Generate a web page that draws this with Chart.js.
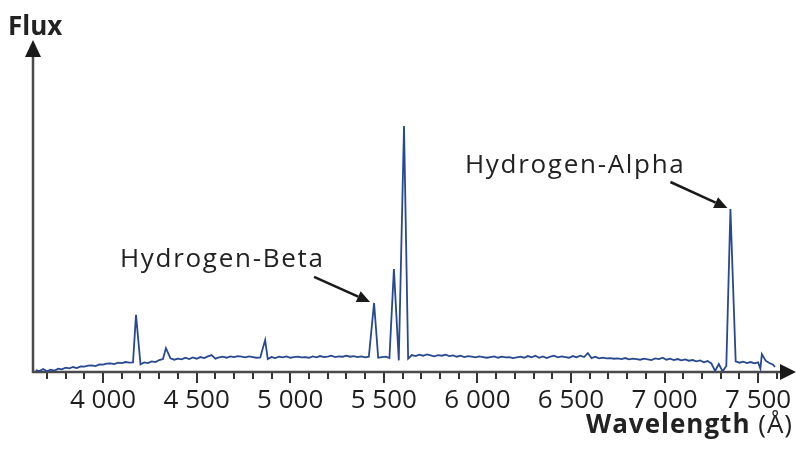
<!DOCTYPE html>
<html>
<head>
<meta charset="utf-8">
<script src="https://cdn.jsdelivr.net/npm/chart.js@4.4.0/dist/chart.umd.min.js"></script>
<style>
  html, body { margin: 0; padding: 0; background: #fff; }
</style>
</head>
<body>
<canvas id="spectrum" width="796" height="452"></canvas>
<script>
// spectrum samples (wavelength in Angstrom, flux in arbitrary units)
const wavelength = [
  3640, 3660, 3680, 3700, 3720, 3740, 3760, 3780, 3800, 3820,
  3840, 3860, 3880, 3900, 3920, 3940, 3960, 3980, 4000, 4020,
  4040, 4060, 4080, 4100, 4120, 4140, 4160, 4176, 4200, 4220,
  4240, 4260, 4280, 4300, 4320, 4336, 4360, 4380, 4400, 4420,
  4440, 4460, 4480, 4500, 4520, 4540, 4560, 4580, 4600, 4620,
  4640, 4660, 4680, 4700, 4720, 4740, 4760, 4780, 4800, 4820,
  4840, 4866, 4880, 4900, 4920, 4940, 4960, 4980, 5000, 5020,
  5040, 5060, 5080, 5100, 5120, 5140, 5160, 5180, 5200, 5220,
  5240, 5260, 5280, 5300, 5320, 5340, 5360, 5380, 5400, 5420,
  5448, 5470, 5490, 5510, 5530, 5554, 5580, 5608, 5630, 5650,
  5670, 5690, 5710, 5730, 5750, 5770, 5790, 5810, 5830, 5850,
  5870, 5890, 5910, 5930, 5950, 5970, 5990, 6010, 6030, 6050,
  6070, 6090, 6110, 6130, 6150, 6170, 6190, 6210, 6230, 6250,
  6270, 6290, 6310, 6330, 6350, 6370, 6390, 6410, 6430, 6450,
  6470, 6490, 6510, 6530, 6550, 6570, 6590, 6610, 6630, 6650,
  6670, 6690, 6710, 6730, 6750, 6770, 6790, 6810, 6830, 6850,
  6870, 6890, 6910, 6930, 6950, 6970, 6990, 7010, 7030, 7050,
  7070, 7090, 7110, 7130, 7150, 7170, 7190, 7210, 7230, 7250,
  7270, 7290, 7310, 7330, 7352, 7380, 7400, 7420, 7440, 7460,
  7480, 7500, 7512, 7520, 7540, 7560, 7580, 7590
];
const flux = [
  0.6, 0.3, 0.9, 0.2, 0.7, 0.4, 1.0, 0.8, 1.3, 1.1,
  1.5, 1.2, 1.7, 1.6, 1.9, 2.0, 1.8, 2.3, 2.2, 2.5,
  2.6, 2.4, 2.8, 2.7, 3.0, 2.8, 2.9, 17.2, 2.3, 2.9,
  2.7, 3.2, 3.0, 3.6, 3.9, 7.2, 4.1, 3.7, 4.0, 3.8,
  4.3, 3.9, 4.4, 4.0, 4.5, 4.2, 4.7, 5.1, 4.0, 4.4,
  4.6, 4.3, 4.7, 4.5, 4.8, 4.6, 4.4, 4.7, 4.5, 4.3,
  4.4, 9.6, 3.9, 4.5, 4.2, 4.6, 4.4, 4.7, 4.3, 4.5,
  4.6, 4.4, 4.5, 4.3, 4.7, 4.4, 4.8, 4.5, 4.6, 4.9,
  4.5, 4.7, 4.6, 4.9, 4.6, 4.8, 4.5, 4.7, 4.4, 4.6,
  20.8, 4.3, 4.5, 4.6, 4.2, 31.0, 3.5, 74.1, 4.0, 5.1,
  4.8, 5.2, 4.9, 5.3, 5.0, 4.7, 5.1, 4.9, 5.2, 4.8,
  5.0, 4.6, 4.9, 4.5, 4.8, 4.6, 4.4, 4.7, 4.5, 4.3,
  4.5, 4.7, 4.3, 4.6, 4.4, 4.5, 4.2, 4.4, 4.6, 4.3,
  4.8, 4.4, 4.9, 4.3, 4.7, 4.2, 4.6, 4.9, 4.4, 4.7,
  4.5, 4.3, 4.8, 4.4, 4.9, 4.5, 5.7, 4.2, 4.6, 4.1,
  4.3, 4.1, 4.2, 4.0, 4.1, 3.9, 4.2, 3.8, 4.0, 3.9,
  3.7, 4.0, 3.8, 3.6, 4.1, 3.9, 4.3, 3.7, 4.0, 3.6,
  3.9, 3.5, 3.8, 3.4, 3.6, 3.2, 3.5, 2.9, 3.3, 2.6,
  0.3, 2.4, 0.2, 1.8, 49.1, 3.2, 2.8, 3.1, 2.7, 3.0,
  2.6, 2.9, 1.0, 5.4, 3.4, 2.7, 2.2, 1.5
];

// axis ticks
const minorTicks = [3700, 3800, 3900, 4000, 4100, 4200, 4300, 4400, 4500, 4600, 4700, 4800, 4900,
  5000, 5100, 5200, 5300, 5400, 5500, 5600, 5700, 5800, 5900, 6000, 6100, 6200, 6300,
  6400, 6500, 6600, 6700, 6800, 6900, 7000, 7100, 7200, 7300, 7400, 7500, 7600];
const majorTicks = [4000, 4500, 5000, 5500, 6000, 6500, 7000, 7500];

// labelled emission lines
const lineNames = ["Hydrogen-Beta", "Hydrogen-Alpha"];
const lineWave = [5448, 7352];
const lineFlux = [20.8, 49.1];

const FONT = "'Open Sans', 'Noto Sans', sans-serif";

function fmtTick(v) {
  const s = String(v);
  return s.slice(0, s.length - 3) + " " + s.slice(-3);
}

function arrow(ctx, x1, y1, x2, y2, head, half) {
  const a = Math.atan2(y2 - y1, x2 - x1);
  const bx = x2 - head * Math.cos(a), by = y2 - head * Math.sin(a);
  ctx.beginPath();
  ctx.moveTo(x1, y1);
  ctx.lineTo(bx, by);
  ctx.stroke();
  ctx.beginPath();
  ctx.moveTo(x2, y2);
  ctx.lineTo(bx + half * Math.sin(a), by - half * Math.cos(a));
  ctx.lineTo(bx - half * Math.sin(a), by + half * Math.cos(a));
  ctx.closePath();
  ctx.fill();
}

const axesPlugin = {
  id: "axesArrows",
  beforeDatasetsDraw(chart) {
    const { ctx, chartArea, scales } = chart;
    const x0 = chartArea.left - 1, y0 = chartArea.bottom;
    ctx.save();
    // tick marks
    ctx.strokeStyle = "#333";
    ctx.lineWidth = 2;
    minorTicks.forEach(v => {
      const px = Math.round(scales.x.getPixelForValue(v));
      const len = majorTicks.includes(v) ? 11 : 7;
      ctx.beginPath();
      ctx.moveTo(px, y0);
      ctx.lineTo(px, y0 + len);
      ctx.stroke();
    });
    // axis lines
    ctx.strokeStyle = "#4a4a4a";
    ctx.lineWidth = 2.5;
    ctx.beginPath();
    ctx.moveTo(x0, y0 + 1);
    ctx.lineTo(x0, chartArea.top + 12);
    ctx.moveTo(x0 - 1, y0);
    ctx.lineTo(chart.width - 12, y0);
    ctx.stroke();
    // arrow heads
    ctx.fillStyle = "#1a1a1a";
    ctx.beginPath();
    ctx.moveTo(x0, chartArea.top);
    ctx.lineTo(x0 - 8, chartArea.top + 17);
    ctx.lineTo(x0 + 8, chartArea.top + 17);
    ctx.closePath();
    ctx.fill();
    ctx.beginPath();
    ctx.moveTo(chart.width, y0);
    ctx.lineTo(chart.width - 16, y0 - 8);
    ctx.lineTo(chart.width - 16, y0 + 8);
    ctx.closePath();
    ctx.fill();
    ctx.restore();
  },
  afterDraw(chart) {
    const { ctx, scales } = chart;
    ctx.save();
    ctx.fillStyle = "#222";
    ctx.textBaseline = "alphabetic";
    // axis titles
    ctx.font = "bold 26px " + FONT;
    ctx.textAlign = "left";
    ctx.fillText("Flux", 8, 35);
    ctx.letterSpacing = "1px";
    ctx.font = "26px " + FONT;
    ctx.textAlign = "right";
    const unit = " (\u00C5)";
    ctx.fillText(unit, 793, 433);
    const uw = ctx.measureText(unit).width;
    ctx.font = "bold 26px " + FONT;
    ctx.fillText("Wavelength", 793 - uw, 433);
    // line annotations
    ctx.letterSpacing = "1.7px";
    ctx.font = "26px " + FONT;
    ctx.textAlign = "left";
    ctx.fillText(lineNames[0], 120, 267);
    ctx.fillText(lineNames[1], 465, 173);
    ctx.letterSpacing = "0px";
    ctx.strokeStyle = "#1a1a1a";
    ctx.fillStyle = "#1a1a1a";
    ctx.lineWidth = 2.5;
    const bx = scales.x.getPixelForValue(lineWave[0]) - 4;
    const by = scales.y.getPixelForValue(lineFlux[0]) - 1;
    arrow(ctx, bx - 56, by - 25, bx, by, 13, 6);
    const ax = scales.x.getPixelForValue(lineWave[1]) - 3;
    const ay = scales.y.getPixelForValue(lineFlux[1]) - 1;
    arrow(ctx, ax - 57, ay - 26, ax, ay, 13, 6);
    ctx.restore();
  }
};

new Chart(document.getElementById("spectrum"), {
  type: "line",
  data: {
    datasets: [{
      data: wavelength.map((w, i) => ({ x: w, y: flux[i] })),
      borderColor: "#28498f",
      borderWidth: 1.8,
      pointRadius: 0,
      tension: 0,
      fill: false
    }]
  },
  options: {
    responsive: false,
    animation: false,
    devicePixelRatio: 1,
    layout: { padding: { left: 34, top: 40, right: 1, bottom: 0 } },
    plugins: { legend: { display: false }, tooltip: { enabled: false } },
    scales: {
      x: {
        type: "linear",
        min: 3631,
        max: 7697,
        afterBuildTicks: s => { s.ticks = minorTicks.map(v => ({ value: v })); },
        afterFit: s => { s.height = 80; },
        grid: { display: false, drawTicks: false },
        border: { display: false },
        ticks: {
          autoSkip: false,
          maxRotation: 0,
          padding: 13,
          color: "#1e1e1e",
          font: { family: FONT, size: 26 },
          callback: v => majorTicks.includes(v) ? fmtTick(v) : ""
        }
      },
      y: { display: false, min: 0, max: 100 }
    }
  },
  plugins: [axesPlugin]
});
</script>
</body>
</html>
